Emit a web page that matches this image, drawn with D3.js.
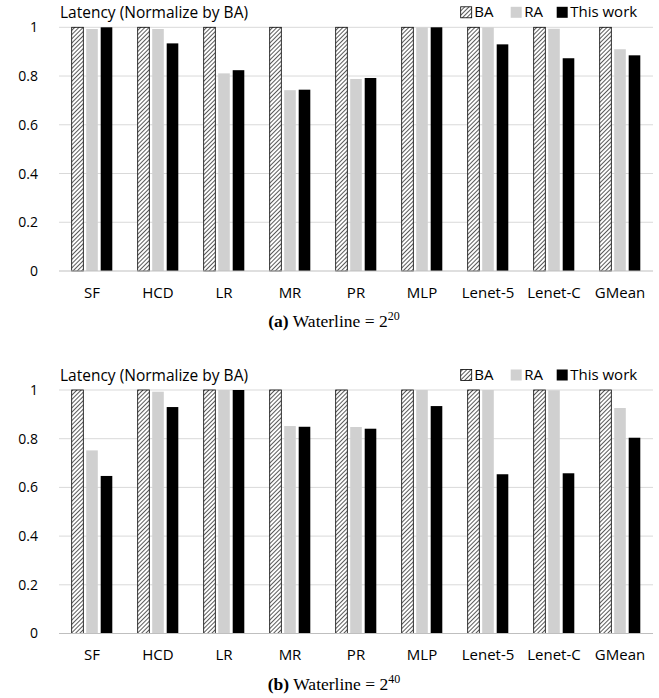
<!DOCTYPE html>
<html>
<head>
<meta charset="utf-8">
<script src="https://cdn.jsdelivr.net/npm/d3@7"></script>
<style>
  body { margin: 0; background: #fff; }
  svg { display: block; }
  .tick-label, .cat-label, .legend-label, .ytitle { font-family: "Open Sans", "Liberation Sans", sans-serif; fill: #000; }
  .caption { font-family: "Liberation Serif", "DejaVu Serif", serif; fill: #000; }
</style>
</head>
<body>
<svg id="chart" width="659" height="698"></svg>
<script>
const categories = ["SF", "HCD", "LR", "MR", "PR", "MLP", "Lenet-5", "Lenet-C", "GMean"];
const series = ["BA", "RA", "This work"];
const yTicks = [0, 0.2, 0.4, 0.6, 0.8, 1];

// (a) Waterline = 2^20
const baA = [1, 1, 1, 1, 1, 1, 1, 1, 1];
const raA = [0.993, 0.993, 0.811, 0.742, 0.788, 1, 1, 0.994, 0.910];
const thisA = [1, 0.934, 0.824, 0.744, 0.792, 1, 0.930, 0.873, 0.885];

// (b) Waterline = 2^40
const baB = [1, 1, 1, 1, 1, 1, 1, 1, 1];
const raB = [0.752, 0.993, 1, 0.852, 0.848, 1, 1, 0.999, 0.926];
const thisB = [0.647, 0.930, 1, 0.849, 0.841, 0.934, 0.654, 0.658, 0.804];

const svg = d3.select("#chart");

// motif hachuré pour BA
const defs = svg.append("defs");
defs.append("pattern")
  .attr("id", "hatch")
  .attr("patternUnits", "userSpaceOnUse")
  .attr("width", 3)
  .attr("height", 3)
  .attr("patternTransform", "rotate(45)")
  .call(p => {
    p.append("rect").attr("width", 3).attr("height", 3).attr("fill", "#fff");
    p.append("line").attr("x1", 0).attr("y1", 0).attr("x2", 0).attr("y2", 3)
      .attr("stroke", "#000").attr("stroke-width", 1.3);
  });

const fills = { "BA": "url(#hatch)", "RA": "#d0d0d0", "This work": "#000" };

const x0 = d3.scaleBand().domain(categories).range([59, 653]);
const groupW = 40.6;
const x1 = d3.scaleBand().domain(series).range([0, groupW]).paddingInner(0.2);

function drawPanel(top, bottom, values, captionLetter, exponent) {
  const g = svg.append("g");
  const y = d3.scaleLinear().domain([0, 1]).range([bottom, top]);

  // grille
  g.selectAll("line.grid").data(yTicks.slice(1)).join("line")
    .attr("x1", 59).attr("x2", 653)
    .attr("y1", d => y(d)).attr("y2", d => y(d))
    .attr("stroke", "#d9d9d9").attr("stroke-width", 1);

  // axe y (libellés seulement)
  const yAxis = d3.axisLeft(y).tickValues(yTicks).tickFormat(d3.format("~g")).tickSize(0).tickPadding(0);
  const ya = g.append("g").attr("transform", "translate(38,0)").call(yAxis);
  ya.select(".domain").remove();
  ya.selectAll("text").attr("class", "tick-label").style("font-size", "14px");

  // barres
  const rows = categories.map((c, i) => ({ c, vals: series.map((s, j) => ({ s, v: values[j][i] })) }));
  const groups = g.selectAll("g.grp").data(rows).join("g")
    .attr("transform", d => `translate(${x0(d.c) + (x0.bandwidth() - groupW) / 2},0)`);
  groups.selectAll("rect").data(d => d.vals).join("rect")
    .attr("x", d => x1(d.s))
    .attr("width", x1.bandwidth())
    .attr("y", d => y(d.v))
    .attr("height", d => y(0) - y(d.v))
    .attr("fill", d => fills[d.s])
    .attr("stroke", d => d.s === "BA" ? "#000" : "none")
    .attr("stroke-width", 0.8);

  // axe x
  const xAxis = d3.axisBottom(x0).tickSize(0).tickPadding(16);
  const xa = g.append("g").attr("transform", `translate(0,${bottom})`).call(xAxis);
  xa.select(".domain").attr("stroke", "#bfbfbf").attr("d", "M59,0H653");
  xa.selectAll("text").attr("class", "cat-label").style("font-size", "15px");

  // titre
  g.append("text").attr("class", "ytitle").attr("x", 60).attr("y", top - 9)
    .style("font-size", "15.5px").text("Latency (Normalize by BA)");

  // légende
  const legendX = [460.7, 510.7, 556.7];
  series.forEach((s, i) => {
    g.append("rect").attr("x", legendX[i]).attr("y", top - 20.5).attr("width", 11).attr("height", 11)
      .attr("fill", fills[s]).attr("stroke", s === "BA" ? "#000" : "none").attr("stroke-width", 0.8);
    g.append("text").attr("class", "legend-label").attr("x", legendX[i] + 13.5).attr("y", top - 10.5)
      .style("font-size", "15px").text(s);
  });

  // légende de la figure
  const cap = g.append("text").attr("class", "caption").attr("x", 334).attr("y", bottom + 56)
    .attr("text-anchor", "middle").style("font-size", "17.5px");
  cap.append("tspan").attr("font-weight", "bold").text(`(${captionLetter})`);
  cap.append("tspan").text(" Waterline = 2");
  cap.append("tspan").attr("dy", -7).style("font-size", "12px").text(exponent);
}

drawPanel(27.3, 271, [baA, raA, thisA], "a", "20");
drawPanel(390, 633.5, [baB, raB, thisB], "b", "40");
</script>
</body>
</html>
